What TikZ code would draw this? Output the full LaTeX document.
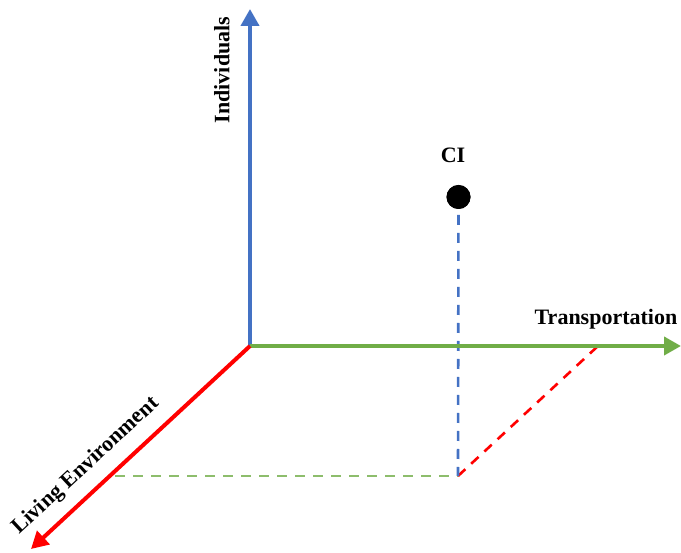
\documentclass[tikz,border=0pt]{standalone}
\usepackage{fontspec}
\setmainfont{Liberation Serif}
\usetikzlibrary{arrows.meta}
\definecolor{axisblue}{HTML}{4472C4}
\definecolor{axisgreen}{HTML}{70AD47}
\definecolor{axisred}{HTML}{FF0000}
\begin{document}
\begin{tikzpicture}[x=1pt,y=-1pt,
  axis/.style={line width=4pt,-{Triangle[length=17pt,width=18pt]}},
  guide/.style={line width=2.6pt,dash pattern=on 10pt off 8pt},
  lbl/.style={font=\fontsize{22}{26}\selectfont\bfseries,inner sep=0pt},
  pointdot/.style={circle,fill=black,minimum size=24pt,inner sep=0pt}]
\useasboundingbox (0,0) rectangle (681,553);
% axes
\coordinate (O) at (250,346);
\coordinate (ytip) at (250,9);
\coordinate (xtip) at (681,346);
\coordinate (ztip) at (31,549);
% projection of the point
\coordinate (P) at (458,476);
\coordinate (Pz) at (115,476);
\coordinate (Px) at (598,346);
% dashed guides
\draw[guide,axisgreen!80!white] (Pz) -- (P);
\draw[guide,axisred] (P) -- (Px);
\node[pointdot] (CI) at (458.5,197) {};
\draw[guide,axisblue] (CI.center) -- (P);
\node[pointdot] at (458.5,197) {};
% axes on top
\draw[axis,axisblue] (O) -- (ytip);
\draw[axis,axisgreen] (O) -- (xtip);
\draw[axis,axisred] (O) -- (ztip);
% labels
\node[lbl,rotate=90] (ly) at (222,70) {Individuals};
\node[lbl] (lx) at (606,319) {Transportation};
\node[lbl] (lci) at (453,155) {CI};
\node[lbl,rotate=42.9] (lz) at (86,466) {Living Environment};
\end{tikzpicture}
\end{document}
